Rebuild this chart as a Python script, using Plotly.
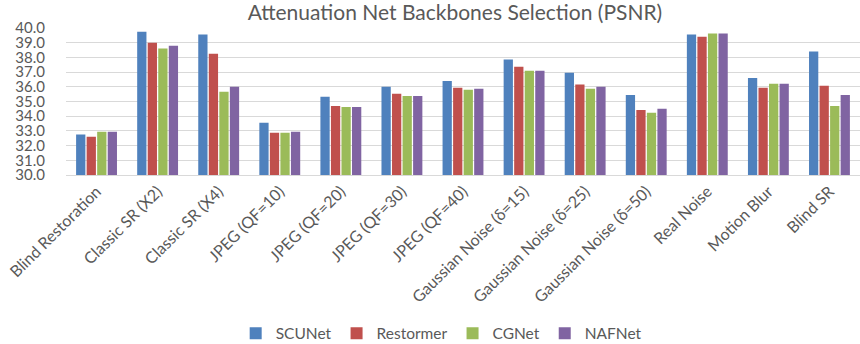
import plotly.graph_objects as go

tasks = ['Blind Restoration', 'Classic SR (X2)', 'Classic SR (X4)', 'JPEG (QF=10)',
         'JPEG (QF=20)', 'JPEG (QF=30)', 'JPEG (QF=40)', 'Gaussian Noise (δ=15)',
         'Gaussian Noise (δ=25)', 'Gaussian Noise (δ=50)', 'Real Noise', 'Motion Blur', 'Blind SR']

scunet = [32.75, 39.75, 39.55, 33.55, 35.32, 36.0, 36.4, 37.85, 36.95, 35.45, 39.55, 36.6, 38.4]
restormer = [32.6, 39.0, 38.25, 32.87, 34.7, 35.52, 35.93, 37.37, 36.15, 34.43, 39.4, 35.93, 36.07]
cgnet = [32.95, 38.6, 35.67, 32.87, 34.63, 35.38, 35.8, 37.1, 35.86, 34.23, 39.62, 36.2, 34.7]
nafnet = [32.95, 38.8, 36.0, 32.95, 34.63, 35.38, 35.86, 37.1, 36.0, 34.5, 39.62, 36.2, 35.45]

series = [('SCUNet', scunet, '#4F81BD'), ('Restormer', restormer, '#C0504D'),
          ('CGNet', cgnet, '#9BBB59'), ('NAFNet', nafnet, '#8064A2')]

FONT = 'Lato'
GREY = '#595959'

fig = go.Figure()
for name, vals, col in series:
  fig.add_trace(go.Bar(name=name, x=tasks, y=vals, marker=dict(color=col, line=dict(width=0))))

fig.update_layout(
  width=860, height=344,
  barmode='group', bargap=0.31, bargroupgap=0.12,
  title=dict(text='Attenuation Net Backbones Selection (PSNR)', xref='container', x=0.529,
             xanchor='center', yref='container', y=0.962, yanchor='middle',
             font=dict(family=FONT, size=21, color=GREY)),
  font=dict(family=FONT, color=GREY),
  plot_bgcolor='white', paper_bgcolor='white',
  margin=dict(t=28, b=169, l=66, r=0),
  legend=dict(orientation='h', xref='container', yref='container', x=0.513, xanchor='center',
              y=0.03, yanchor='middle', font=dict(family=FONT, size=15.5, color=GREY),
              itemwidth=30, tracegroupgap=0),
)
fig.update_yaxes(range=[30, 40], dtick=1, tickformat='.1f', showgrid=True, gridcolor='#D9D9D9',
                 gridwidth=1, zeroline=False, showline=False, ticks='', automargin=False,
                 ticklabelstandoff=20,
                 tickfont=dict(family=FONT, size=15, color=GREY))
fig.update_xaxes(tickangle=-45, showline=True, linecolor='#D9D9D9', linewidth=1, ticks='',
                 automargin=False,
                 tickfont=dict(family=FONT, size=16, color=GREY))

# the page body has a default 8px margin; drop it so the figure fills the window
fig.write_html("out.html", config={'displayModeBar': False},
               post_script="document.body.style.margin='0px';")
